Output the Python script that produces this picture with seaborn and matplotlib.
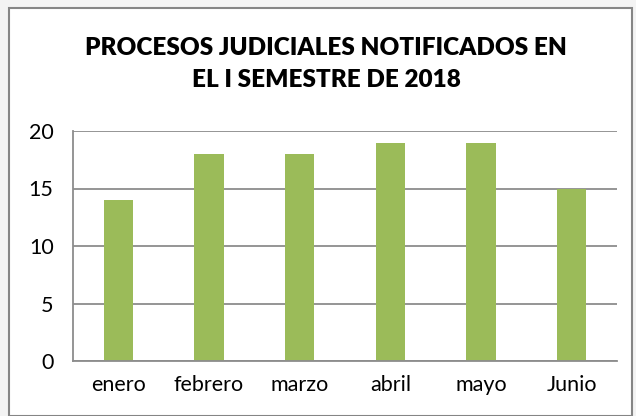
import matplotlib
matplotlib.use("Agg")
import matplotlib.pyplot as plt
import seaborn as sns
import pandas as pd
from matplotlib.patches import Rectangle

meses = ["enero", "febrero", "marzo", "abril", "mayo", "Junio"]
procesos = [14, 18, 18, 19, 19, 15]
y_ticks = [0, 5, 10, 15, 20]
titulo = "PROCESOS JUDICIALES NOTIFICADOS EN\nEL I SEMESTRE DE 2018"

sns.set_theme(style="white")
plt.rcParams["font.family"] = ["Lato", "DejaVu Sans"]

df = pd.DataFrame({"mes": meses, "procesos": procesos})

fig = plt.figure(figsize=(6.36, 4.16), dpi=100, facecolor="#f3f3f3")
fig.patches.append(Rectangle((9/636, 0), 623/636, 1 - 8/416, transform=fig.transFigure,
                             facecolor="white", edgecolor="#858585", linewidth=1.5, zorder=-1))
ax = fig.add_axes([73/636, 1 - 361/416, 544/636, (361 - 131)/416])
ax.set_facecolor("white")
sns.barplot(data=df, x="mes", y="procesos", color="#9BBB59", width=0.32, ax=ax,
            saturation=1, edgecolor="none")
ax.set_ylim(0, 20)
ax.set_yticks(y_ticks)
ax.yaxis.grid(True, color="#8c8c8c", linewidth=1.3)
ax.set_axisbelow(True)
for s in ["top", "right"]:
    ax.spines[s].set_visible(False)
for s in ["left", "bottom"]:
    ax.spines[s].set_color("#8c8c8c")
    ax.spines[s].set_linewidth(1.3)
ax.set_xlabel("")
ax.set_ylabel("")
ax.tick_params(axis="both", labelsize=15.5, colors="black", length=0)
ax.tick_params(axis="x", pad=10)
ax.tick_params(axis="y", pad=14)
fig.text(326/636, 1 - 64/416, titulo, ha="center", va="center", fontsize=17.5,
         fontweight="heavy", color="black", linespacing=1.6)
fig.savefig("out.png", dpi=100, facecolor=fig.get_facecolor())
